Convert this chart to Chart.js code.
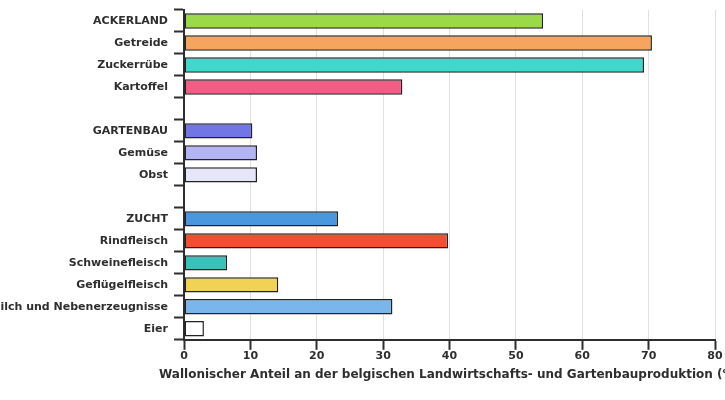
<!DOCTYPE html>
<html>
<head>
<meta charset="utf-8">
<script src="https://cdn.jsdelivr.net/npm/chart.js@4/dist/chart.umd.min.js"></script>
<style>
  html, body { margin: 0; padding: 0; background: #fff; }
  #wrap { width: 725px; height: 400px; position: relative; }
</style>
</head>
<body>
<div id="wrap"><canvas id="grafica"></canvas></div>
<script>
//Datos
const categorias = [
  "ACKERLAND", "Getreide", "Zuckerrübe", "Kartoffel", "",
  "GARTENBAU", "Gemüse", "Obst", " ",
  "ZUCHT", "Rindfleisch", "Schweinefleisch", "Geflügelfleisch",
  "Milch und Nebenerzeugnisse", "Eier"
];
const anteil = [
  54.1, 70.5, 69.3, 32.9, null,
  10.3, 11.0, 11.0, null,
  23.2, 39.8, 6.5, 14.2, 31.4, 3.0
];
const farben = [
  "#9bd948", "#f6a55e", "#3ed9cc", "#f05e85", "#ffffff",
  "#7275e6", "#b3b4f3", "#e6e6fa", "#ffffff",
  "#4a97e0", "#f04f30", "#3bbfb9", "#f2d253", "#7ab5eb", "#ffffff"
];
const xTicks = [0, 10, 20, 30, 40, 50, 60, 70, 80];
const xTitel = "Wallonischer Anteil an der belgischen Landwirtschafts- und Gartenbauproduktion (%)";

const schrift = { family: "'DejaVu Sans', sans-serif", size: 11, weight: "bold" };
const dunkel = "#2e2e2e";

//Achsentitel ohne Stauchung zeichnen (darf rechts abgeschnitten werden)
const titelPlugin = {
  id: "achsentitel",
  afterDraw(chart) {
    const c = chart.ctx;
    const a = chart.chartArea;
    c.save();
    c.font = "bold 12px 'DejaVu Sans', sans-serif";
    c.fillStyle = dunkel;
    c.textAlign = "center";
    c.textBaseline = "middle";
    c.fillText(xTitel, (a.left + a.right) / 2, a.bottom + 35);
    c.restore();
  }
};

window.addEventListener("load", () => {
  const ctx = document.getElementById("grafica").getContext("2d");
  new Chart(ctx, {
    type: "bar",
    data: {
      labels: categorias,
      datasets: [{
        data: anteil,
        backgroundColor: farben,
        borderColor: "#222222",
        borderWidth: 1.5,
        borderSkipped: false,
        barPercentage: 0.7,
        categoryPercentage: 1.0
      }]
    },
    options: {
      indexAxis: "y",
      responsive: true,
      maintainAspectRatio: false,
      animation: false,
      layout: { padding: { top: 10, right: 10, left: 0, bottom: 37 } },
      plugins: {
        legend: { display: false },
        tooltip: { enabled: false }
      },
      scales: {
        x: {
          min: 0,
          max: 80,
          afterBuildTicks: (scale) => {
            scale.ticks = xTicks.map((v) => ({ value: v }));
          },
          grid: {
            color: "#e0e0e0",
            lineWidth: 1,
            tickColor: dunkel,
            tickLength: 10,
            tickWidth: 2
          },
          border: { color: dunkel, width: 2 },
          ticks: { font: schrift, color: dunkel, padding: 0 }
        },
        y: {
          offset: true,
          afterFit: (scale) => {
            scale.width = 184;
            scale.paddingTop = 0;
            scale.paddingBottom = 0;
          },
          grid: {
            offset: true,
            color: "rgba(0,0,0,0)",
            tickColor: dunkel,
            tickLength: 10,
            tickWidth: 2
          },
          border: { color: dunkel, width: 2 },
          ticks: { font: schrift, color: dunkel, padding: 6, autoSkip: false }
        }
      }
    },
    plugins: [titelPlugin]
  });
});
</script>
</body>
</html>
